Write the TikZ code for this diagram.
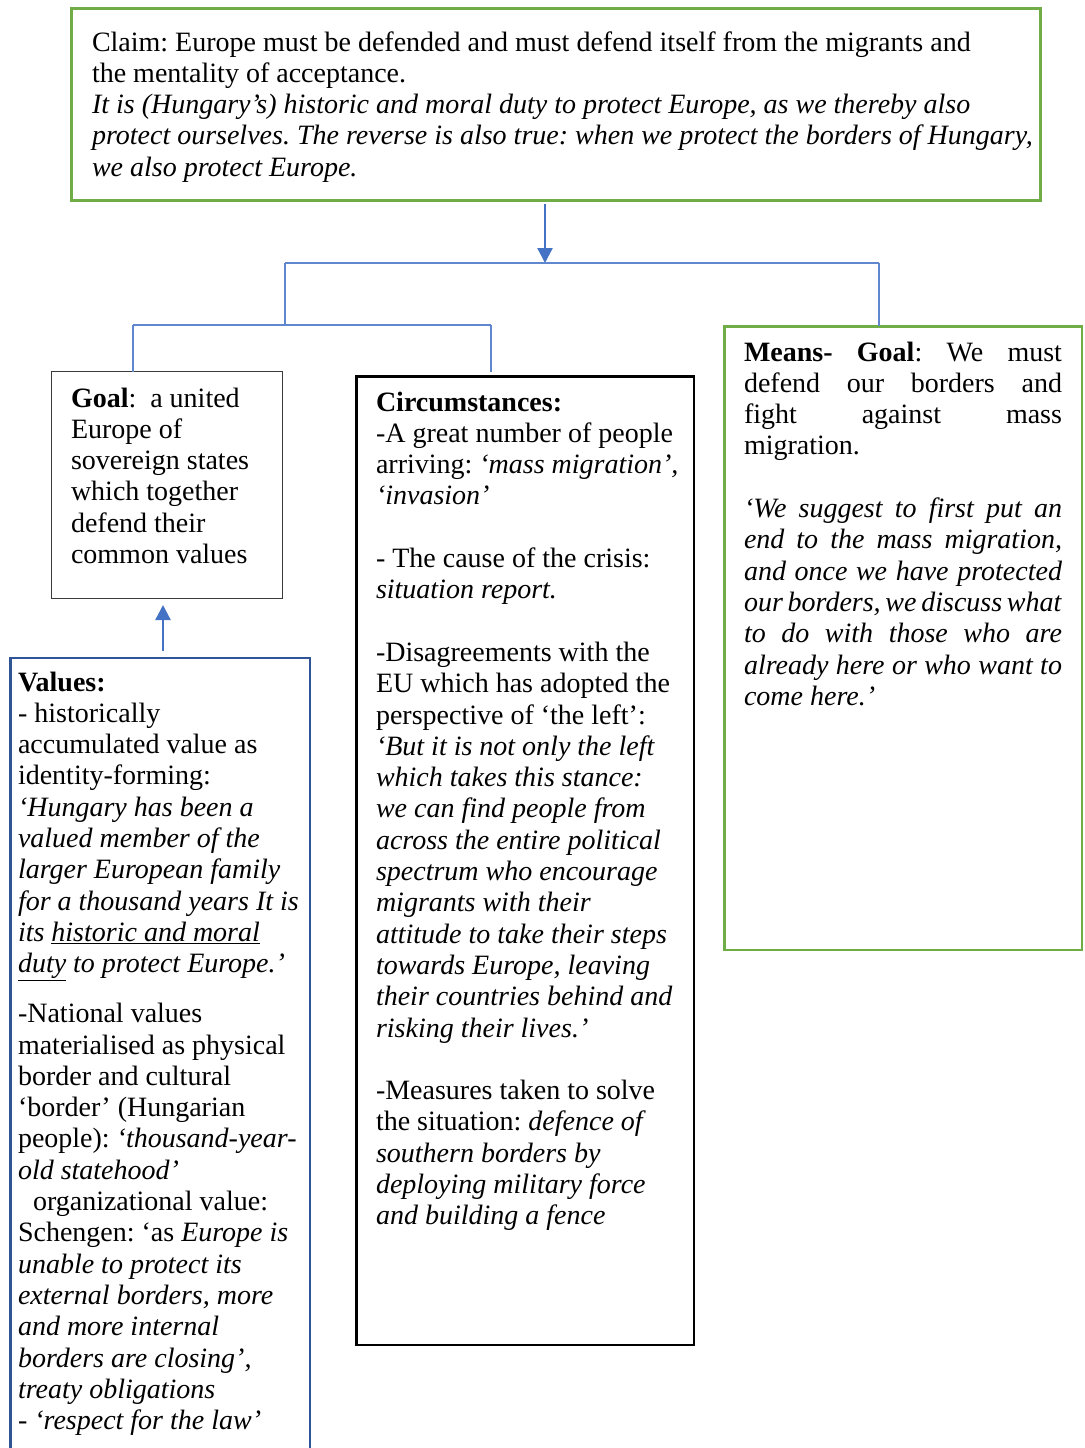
\documentclass[tikz,border=0pt]{standalone}
\usepackage{fontspec}
\setmainfont{Liberation Serif}
\usetikzlibrary{arrows.meta}

\definecolor{boxgreen}{HTML}{70AD47}
\definecolor{linkblue}{HTML}{4472C4}
\definecolor{valblue}{HTML}{2F5597}
\definecolor{goalgray}{HTML}{3A3A3A}

\newcommand{\bodyfont}{\fontsize{28}{31.3}\selectfont\frenchspacing}
% a fully justified line of the means box
\newcommand{\jline}[1]{\makebox[318pt][s]{#1}}

\tikzset{
  panel/.style={draw, rectangle, inner sep=0pt, outer sep=0pt},
  txt/.style={anchor=base west, inner sep=0pt, outer sep=0pt},
  conn/.style={draw=linkblue!85, line width=1.3pt},
  arrowline/.style={draw=linkblue, line width=2.3pt, -{Triangle[length=15pt,width=15pt]}}
}

\begin{document}
\begin{tikzpicture}[x=1pt, y=-1pt]
\useasboundingbox (0,0) rectangle (1084,1448);
\clip (0,0) rectangle (1084,1448);

% boxes
\node[panel, draw=boxgreen, line width=3pt, minimum width=969pt, minimum height=192pt] (claim) at (555.5,104) {};
\node[panel, draw=goalgray, line width=1.5pt, minimum width=231pt, minimum height=227pt] (goal) at (167,485) {};
\node[panel, draw=black, line width=2.5pt, minimum width=337.5pt, minimum height=968.5pt] (circ) at (525,860.5) {};
\node[panel, draw=boxgreen, line width=2.5pt, minimum width=357.5pt, minimum height=623.5pt] (means) at (903,638) {};
\node[panel, draw=valblue, line width=2.5pt, minimum width=299.5pt, minimum height=812pt] (values) at (160,1064) {};

% texts
\node[txt] (claimtext) at (92,51) {\parbox[t]{1000pt}{\bodyfont
Claim: Europe must be defended and must defend itself from the migrants and\\
the mentality of acceptance.\\
\textit{It is (Hungary’s) historic and moral duty to protect Europe, as we thereby also}\\
\textit{protect ourselves. The reverse is also true: when we protect the borders of Hungary,}\\
\textit{we also protect Europe.}}};

\node[txt] (goaltext) at (71,407) {\parbox[t]{300pt}{\bodyfont
\textbf{Goal}:\ \ a united\\
Europe of\\
sovereign states\\
which together\\
defend their\\
common values}};

\node[txt] (circtext) at (376,411) {\parbox[t]{400pt}{\bodyfont
\textbf{Circumstances:}\\
-A great number of people\\
arriving: \textit{‘mass migration’,}\\
\textit{‘invasion’}\\[31.3pt]
- The cause of the crisis:\\
\textit{situation report.}\\[31.3pt]
-Disagreements with the\\
EU which has adopted the\\
perspective of ‘the left’:\\
\textit{‘But it is not only the left}\\
\textit{which takes this stance:}\\
\textit{we can find people from}\\
\textit{across the entire political}\\
\textit{spectrum who encourage}\\
\textit{migrants with their}\\
\textit{attitude to take their steps}\\
\textit{towards Europe, leaving}\\
\textit{their countries behind and}\\
\textit{risking their lives.’}\\[31.3pt]
-Measures taken to solve\\
the situation: \textit{defence of}\\
\textit{southern borders by}\\
\textit{deploying military force}\\
\textit{and building a fence}}};

\node[txt] (meanstext) at (744,361) {\parbox[t]{400pt}{\bodyfont
\jline{\textbf{Means-} \textbf{Goal}: We must}\\
\jline{defend our borders and}\\
\jline{fight against mass}\\
migration.\\[31.3pt]
\jline{\textit{‘We suggest to first put an}}\\
\jline{\textit{end to the mass migration,}}\\
\jline{\textit{and once we have protected}}\\
\jline{\textit{our borders, we discuss what}}\\
\jline{\textit{to do with those who are}}\\
\jline{\textit{already here or who want to}}\\
\textit{come here.’}}};

\node[txt] (valuestext) at (18,691) {\parbox[t]{400pt}{\bodyfont
\textbf{Values:}\\
- historically\\
accumulated value as\\
identity-forming:\\
\textit{‘Hungary has been a}\\
\textit{valued member of the}\\
\textit{larger European family}\\
\textit{for a thousand years It is}\\
\textit{its \underline{historic and moral}}\\
\textit{\underline{duty} to protect Europe.’}\\[18.7pt]
-National values\\
materialised as physical\\
border and cultural\\
‘border’ (Hungarian\\
people): \textit{‘thousand-year-}\\
\textit{old statehood’}\\
\hspace*{15pt}organizational value:\\
Schengen: ‘as \textit{Europe is}\\
\textit{unable to protect its}\\
\textit{external borders, more}\\
\textit{and more internal}\\
\textit{borders are closing’,}\\
\textit{treaty obligations}\\
- \textit{‘respect for the law’}}};

% connector tree
\coordinate (top) at (545,263);
\coordinate (busL) at (285,263);
\coordinate (busR) at (879,263);
\coordinate (subL) at (133,325);
\coordinate (subR) at (491,325);
\coordinate (subM) at (285,325);

\draw[arrowline] (top |- claim.south) ++(0,4) -- (top);
\draw[conn] (busL) -- (busR);
\draw[conn] (busL) -- (subM);
\draw[conn] (busR) -- (busR |- means.north);
\draw[conn] (subL) -- (subR);
\draw[conn] (subL) -- (subL |- goal.north);
\draw[conn] (subR) -- ([yshift=4pt]subR |- circ.north);

% values support the goal
\coordinate (upfoot) at (163,651);
\coordinate (uptip) at (163,605);
\draw[arrowline] (upfoot) -- (uptip);
\end{tikzpicture}
\end{document}
